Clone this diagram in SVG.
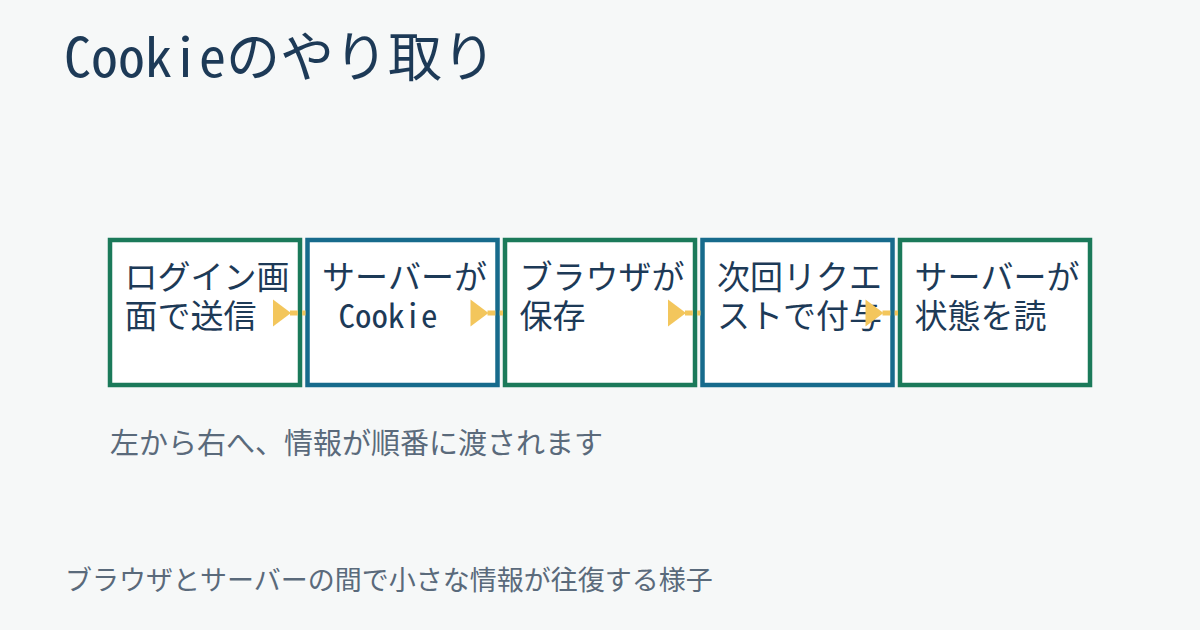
<svg xmlns="http://www.w3.org/2000/svg" width="1200" height="630" viewBox="0 0 1200 630">
<style>
.t{font-family:'Noto Sans Mono CJK JP','Noto Sans CJK JP',monospace;fill:#1d3a57}
.title{font-size:54px}
.lbl{font-size:33px}
.sub{font-family:'Noto Sans CJK JP',sans-serif;font-size:29px;fill:#5a6a7b}
.foot{font-family:'Noto Sans CJK JP',sans-serif;font-size:27px;fill:#5a6a7b}
.g{fill:#ffffff;stroke:#1b7a5a;stroke-width:4.5}
.b{fill:#ffffff;stroke:#176b8c;stroke-width:4.5}
.ah{fill:#f3c65c}
.ln{stroke:#f3c65c;stroke-width:5;fill:none}
</style>
<rect width="1200" height="630" fill="#f6f8f8"/>
<text class="t title" x="64" y="77">Cookieのやり取り</text>
<g id="nodes">
<g id="n1"><rect class="g" x="110" y="240" width="190" height="145"/><text class="t lbl" x="124.5" y="289">ログイン画</text><text class="t lbl" x="124.5" y="328">面で送信</text></g>
<g id="n2"><rect class="b" x="307.5" y="240" width="190" height="145"/><text class="t lbl" x="322" y="289">サーバーが</text><text class="t lbl" x="338.5" y="328">Cookie</text></g>
<g id="n3"><rect class="g" x="505" y="240" width="190" height="145"/><text class="t lbl" x="519.5" y="289">ブラウザが</text><text class="t lbl" x="519.5" y="328">保存</text></g>
<g id="n4"><rect class="b" x="702.5" y="240" width="190" height="145"/><text class="t lbl" x="717" y="289">次回リクエ</text><text class="t lbl" x="717" y="328">ストで付与</text></g>
<g id="n5"><rect class="g" x="900" y="240" width="190" height="145"/><text class="t lbl" x="914.5" y="289">サーバーが</text><text class="t lbl" x="914.5" y="328">状態を読</text></g>
</g>
<g id="connectors">
<g><polygon class="ah" points="273,299.5 291,313 273,326.5"/><path class="ln" d="M290 313H297.8M302.2 313H305.5"/></g>
<g><polygon class="ah" points="470.5,299.5 488.5,313 470.5,326.5"/><path class="ln" d="M487.5 313H495.3M499.7 313H503"/></g>
<g><polygon class="ah" points="668,299.5 686,313 668,326.5"/><path class="ln" d="M685 313H692.8M697.2 313H700.5"/></g>
<g><polygon class="ah" points="865.5,299.5 883.5,313 865.5,326.5"/><path class="ln" d="M882.5 313H890.3M894.7 313H898"/></g>
</g>
<text class="sub" x="110" y="454">左から右へ、情報が順番に渡されます</text>
<text class="foot" x="65" y="590">ブラウザとサーバーの間で小さな情報が往復する様子</text>
</svg>
